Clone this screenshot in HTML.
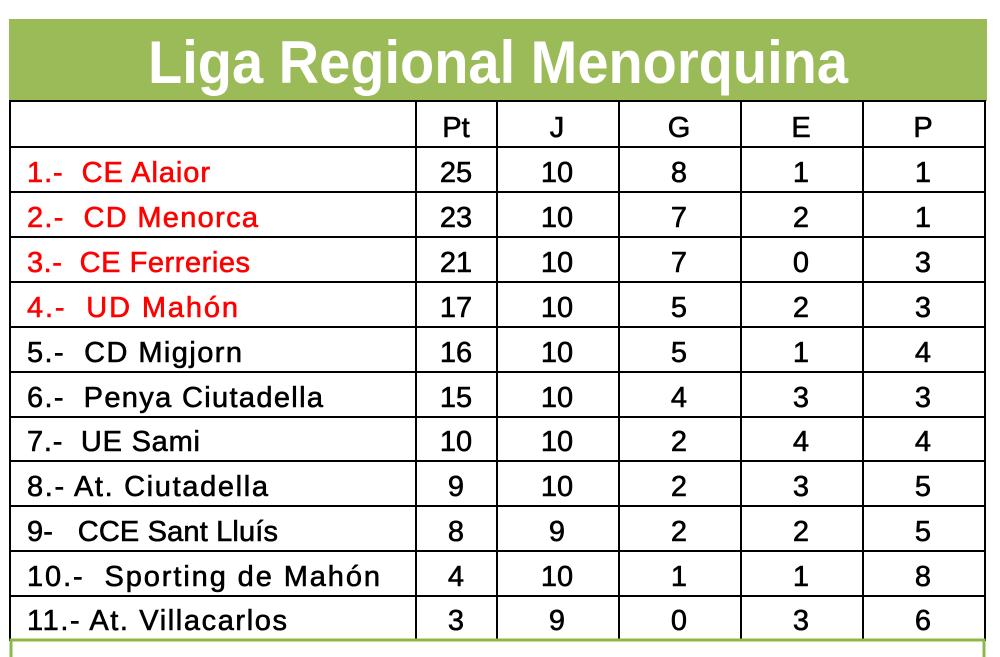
<!DOCTYPE html>
<html><head><meta charset="utf-8"><style>
html,body{margin:0;padding:0;background:#fff;}
svg{display:block;}
text{font-family:"Liberation Sans",Arial,sans-serif;}
</style></head><body>
<svg width="1000" height="657" viewBox="0 0 1000 657" xmlns="http://www.w3.org/2000/svg">
<rect x="0" y="0" width="1000" height="657" fill="#fff"/>
<rect x="9" y="19" width="978" height="82" fill="#9bbb59"/>
<text x="498" y="83" fill="#fff" font-size="60" font-weight="bold" text-anchor="middle" textLength="700" lengthAdjust="spacingAndGlyphs">Liga Regional Menorquina</text>
<g stroke="#000" stroke-width="2" fill="none">
<rect x="10" y="101" width="975" height="539"/>
<line x1="10" y1="147" x2="985" y2="147"/>
<line x1="10" y1="192" x2="985" y2="192"/>
<line x1="10" y1="237" x2="985" y2="237"/>
<line x1="10" y1="282" x2="985" y2="282"/>
<line x1="10" y1="327" x2="985" y2="327"/>
<line x1="10" y1="372" x2="985" y2="372"/>
<line x1="10" y1="417" x2="985" y2="417"/>
<line x1="10" y1="461" x2="985" y2="461"/>
<line x1="10" y1="506" x2="985" y2="506"/>
<line x1="10" y1="551" x2="985" y2="551"/>
<line x1="10" y1="596" x2="985" y2="596"/>
<line x1="416" y1="101" x2="416" y2="640"/>
<line x1="497" y1="101" x2="497" y2="640"/>
<line x1="619" y1="101" x2="619" y2="640"/>
<line x1="741" y1="101" x2="741" y2="640"/>
<line x1="863" y1="101" x2="863" y2="640"/>
</g>
<path d="M11 657 V640 H984 V657" stroke="#8cb84a" stroke-width="3" fill="none"/>
<g font-size="29" text-anchor="middle" fill="#000" stroke="#000" stroke-width="0.6">
<text x="456" y="137">Pt</text><text x="557" y="137">J</text><text x="679" y="137">G</text><text x="801" y="137">E</text><text x="923" y="137">P</text>
</g>
<g font-size="29" fill="#000" stroke="#000" stroke-width="0.6" lengthAdjust="spacingAndGlyphs">
<g fill="#ff0000" stroke="#ff0000">
<text x="27" y="182" textLength="183">1.-&#160; CE Alaior</text>
<text x="27" y="227" textLength="231">2.-&#160; CD Menorca</text>
<text x="27" y="272" textLength="223">3.-&#160; CE Ferreries</text>
<text x="27" y="317" textLength="211">4.-&#160; UD Mahón</text>
</g>
<text x="27" y="362" textLength="215">5.-&#160; CD Migjorn</text>
<text x="27" y="407" textLength="296">6.-&#160; Penya Ciutadella</text>
<text x="27" y="451" textLength="173">7.-&#160; UE Sami</text>
<text x="27" y="496" textLength="241">8.- At. Ciutadella</text>
<text x="27" y="541" textLength="251">9-&#160;&#160; CCE Sant Lluís</text>
<text x="27" y="586" textLength="353">10.-&#160; Sporting de Mahón</text>
<text x="27" y="630" textLength="260">11.- At. Villacarlos</text>
</g>
<g font-size="29" text-anchor="middle" fill="#000" stroke="#000" stroke-width="0.6">
<text x="456" y="182">25</text><text x="557" y="182">10</text><text x="679" y="182">8</text><text x="801" y="182">1</text><text x="923" y="182">1</text>
<text x="456" y="227">23</text><text x="557" y="227">10</text><text x="679" y="227">7</text><text x="801" y="227">2</text><text x="923" y="227">1</text>
<text x="456" y="272">21</text><text x="557" y="272">10</text><text x="679" y="272">7</text><text x="801" y="272">0</text><text x="923" y="272">3</text>
<text x="456" y="317">17</text><text x="557" y="317">10</text><text x="679" y="317">5</text><text x="801" y="317">2</text><text x="923" y="317">3</text>
<text x="456" y="362">16</text><text x="557" y="362">10</text><text x="679" y="362">5</text><text x="801" y="362">1</text><text x="923" y="362">4</text>
<text x="456" y="407">15</text><text x="557" y="407">10</text><text x="679" y="407">4</text><text x="801" y="407">3</text><text x="923" y="407">3</text>
<text x="456" y="451">10</text><text x="557" y="451">10</text><text x="679" y="451">2</text><text x="801" y="451">4</text><text x="923" y="451">4</text>
<text x="456" y="496">9</text><text x="557" y="496">10</text><text x="679" y="496">2</text><text x="801" y="496">3</text><text x="923" y="496">5</text>
<text x="456" y="541">8</text><text x="557" y="541">9</text><text x="679" y="541">2</text><text x="801" y="541">2</text><text x="923" y="541">5</text>
<text x="456" y="586">4</text><text x="557" y="586">10</text><text x="679" y="586">1</text><text x="801" y="586">1</text><text x="923" y="586">8</text>
<text x="456" y="630">3</text><text x="557" y="630">9</text><text x="679" y="630">0</text><text x="801" y="630">3</text><text x="923" y="630">6</text>
</g>
</svg>
</body></html>
